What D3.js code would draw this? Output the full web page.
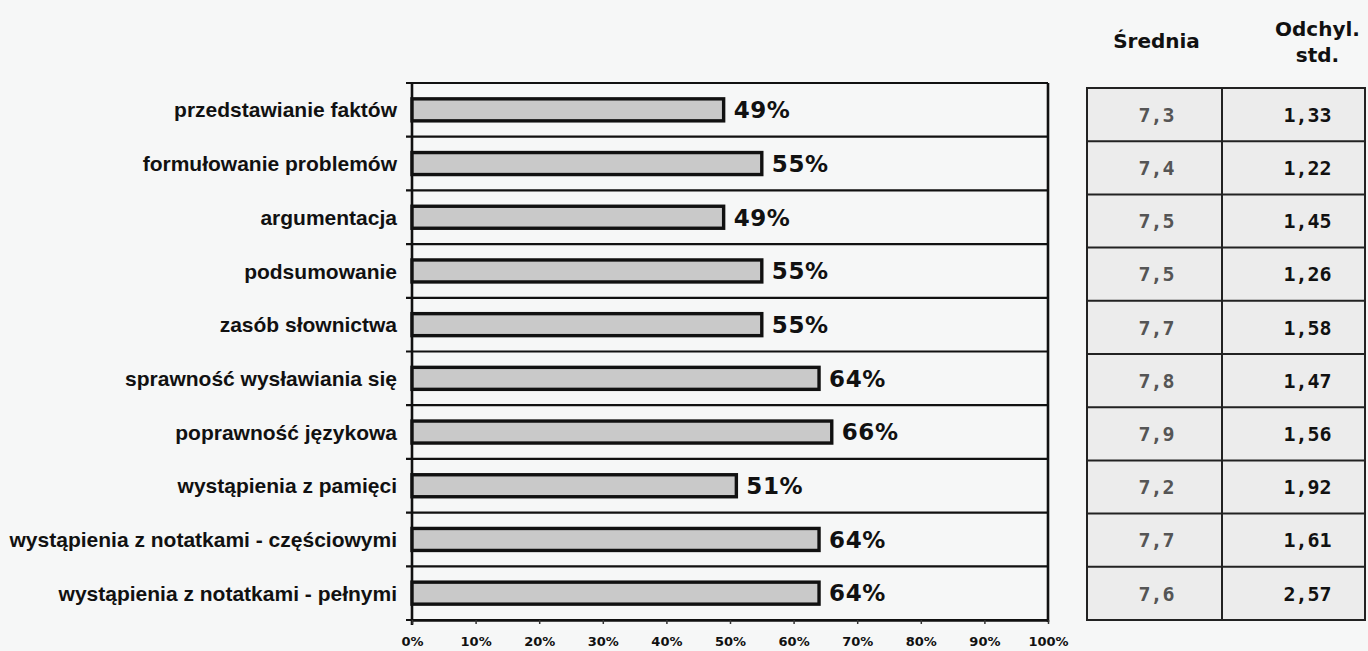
<!DOCTYPE html>
<html>
<head>
<meta charset="utf-8">
<script src="https://cdn.jsdelivr.net/npm/d3@7"></script>
<style>
  html, body { margin: 0; padding: 0; background: #f6f7f7; }
  svg { display: block; }
</style>
</head>
<body>
<div id="chart"></div>
<script>
// Data
const categories = [
    'przedstawianie faktów',
    'formułowanie problemów',
    'argumentacja',
    'podsumowanie',
    'zasób słownictwa',
    'sprawność wysławiania się',
    'poprawność językowa',
    'wystąpienia z pamięci',
    'wystąpienia z notatkami - częściowymi',
    'wystąpienia z notatkami - pełnymi'
];
const percents = [49, 55, 49, 55, 55, 64, 66, 51, 64, 64];
const means = ['7,3', '7,4', '7,5', '7,5', '7,7', '7,8', '7,9', '7,2', '7,7', '7,6'];
const stdDevs = ['1,33', '1,22', '1,45', '1,26', '1,58', '1,47', '1,56', '1,92', '1,61', '2,57'];
const xTicks = [0, 10, 20, 30, 40, 50, 60, 70, 80, 90, 100];

const W = 1368, H = 651;
const plot = { left: 412, right: 1048, top: 83, bottom: 620 };
const table = { left: 1087, mid: 1222, right: 1365, top: 88, bottom: 620 };

const svg = d3.select('#chart')
    .append('svg')
    .attr('width', W)
    .attr('height', H);

svg.append('rect').attr('width', W).attr('height', H).attr('fill', '#f6f7f7');

// Scales
const x = d3.scaleLinear().domain([0, 100]).range([plot.left, plot.right]);
const y = d3.scaleBand().domain(categories).range([plot.top, plot.bottom]);
const barH = 22;

// Row separators (category boundaries) with small ticks to the left
const bounds = categories.map(c => y(c)).concat([plot.bottom]);
svg.append('g').attr('class', 'row-lines')
    .selectAll('line')
    .data(bounds)
    .join('line')
    .attr('x1', plot.left - 6)
    .attr('x2', plot.right)
    .attr('y1', d => d)
    .attr('y2', d => d)
    .attr('stroke', '#111')
    .attr('stroke-width', 2.2);

// Left axis line and right border
svg.append('line')
    .attr('x1', plot.left).attr('x2', plot.left)
    .attr('y1', plot.top).attr('y2', plot.bottom + 5)
    .attr('stroke', '#111').attr('stroke-width', 2.6);
svg.append('line')
    .attr('x1', plot.right).attr('x2', plot.right)
    .attr('y1', plot.top).attr('y2', plot.bottom + 2)
    .attr('stroke', '#111').attr('stroke-width', 2.6);

// Bars
svg.append('g').attr('class', 'bars')
    .selectAll('rect')
    .data(percents)
    .join('rect')
    .attr('x', x(0))
    .attr('y', (d, i) => y(categories[i]) + y.bandwidth() / 2 - barH / 2)
    .attr('width', d => x(d) - x(0))
    .attr('height', barH)
    .attr('fill', '#c9c9c9')
    .attr('stroke', '#111')
    .attr('stroke-width', 3.4);

// Value labels
svg.append('g').attr('class', 'values')
    .selectAll('text')
    .data(percents)
    .join('text')
    .attr('x', d => x(d) + 10)
    .attr('y', (d, i) => y(categories[i]) + y.bandwidth() / 2)
    .attr('dy', '0.36em')
    .attr('font-family', '"DejaVu Sans", Verdana, sans-serif')
    .attr('font-weight', 'bold')
    .attr('font-size', 23)
    .attr('letter-spacing', 0.6)
    .attr('fill', '#111')
    .text(d => d + '%');

// Category labels
svg.append('g').attr('class', 'cats')
    .selectAll('text')
    .data(categories)
    .join('text')
    .attr('x', plot.left - 15)
    .attr('y', d => y(d) + y.bandwidth() / 2)
    .attr('dy', '0.36em')
    .attr('text-anchor', 'end')
    .attr('font-family', '"Liberation Sans", Arial, sans-serif')
    .attr('font-weight', 'bold')
    .attr('font-size', 21)
    .attr('fill', '#111')
    .text(d => d);

// Bottom axis
const xAxis = svg.append('g')
    .attr('transform', `translate(0,${plot.bottom})`)
    .call(d3.axisBottom(x).tickValues(xTicks).tickSize(4).tickSizeOuter(0).tickFormat(d => d + '%'));
xAxis.select('.domain').attr('stroke', '#111').attr('stroke-width', 2.6);
xAxis.selectAll('.tick line').attr('stroke', '#333').attr('stroke-width', 1.5);
xAxis.selectAll('.tick text')
    .attr('y', 17)
    .attr('font-family', '"DejaVu Sans", Verdana, sans-serif')
    .attr('font-weight', 'bold')
    .attr('font-size', 13)
    .attr('fill', '#111');

// Table on the right
const ty = d3.scaleBand().domain(categories).range([table.top, table.bottom]);
const tg = svg.append('g').attr('class', 'table');
const meanX = (table.left + table.mid) / 2 + 2;
const stdX = (table.mid + table.right) / 2 + 14;

tg.append('rect')
    .attr('x', table.left).attr('y', table.top)
    .attr('width', table.right - table.left)
    .attr('height', table.bottom - table.top)
    .attr('fill', '#ececec')
    .attr('stroke', '#222')
    .attr('stroke-width', 2);

tg.append('line')
    .attr('x1', table.mid).attr('x2', table.mid)
    .attr('y1', table.top).attr('y2', table.bottom)
    .attr('stroke', '#222').attr('stroke-width', 2);

tg.selectAll('.row-sep')
    .data(categories.slice(1))
    .join('line')
    .attr('class', 'row-sep')
    .attr('x1', table.left).attr('x2', table.right)
    .attr('y1', d => ty(d)).attr('y2', d => ty(d))
    .attr('stroke', '#222').attr('stroke-width', 2);

tg.selectAll('.mean')
    .data(means)
    .join('text')
    .attr('class', 'mean')
    .attr('x', meanX)
    .attr('y', (d, i) => ty(categories[i]) + ty.bandwidth() / 2)
    .attr('dy', '0.36em')
    .attr('text-anchor', 'middle')
    .attr('font-family', '"DejaVu Sans Mono", monospace')
    .attr('font-weight', 'bold')
    .attr('font-size', 20)
    .attr('fill', '#555')
    .text(d => d);

tg.selectAll('.std')
    .data(stdDevs)
    .join('text')
    .attr('class', 'std')
    .attr('x', stdX)
    .attr('y', (d, i) => ty(categories[i]) + ty.bandwidth() / 2)
    .attr('dy', '0.36em')
    .attr('text-anchor', 'middle')
    .attr('font-family', '"DejaVu Sans Mono", monospace')
    .attr('font-weight', 'bold')
    .attr('font-size', 20)
    .attr('fill', '#111')
    .text(d => d);

// Table headers
const headFont = '"DejaVu Sans", Verdana, sans-serif';
tg.append('text')
    .attr('x', meanX).attr('y', 48)
    .attr('text-anchor', 'middle')
    .attr('font-family', headFont).attr('font-weight', 'bold').attr('font-size', 20)
    .attr('fill', '#111')
    .text('Średnia');
tg.append('text')
    .attr('x', stdX + 10).attr('y', 36)
    .attr('text-anchor', 'middle')
    .attr('font-family', headFont).attr('font-weight', 'bold').attr('font-size', 20)
    .attr('fill', '#111')
    .text('Odchyl.');
tg.append('text')
    .attr('x', stdX + 10).attr('y', 62)
    .attr('text-anchor', 'middle')
    .attr('font-family', headFont).attr('font-weight', 'bold').attr('font-size', 20)
    .attr('fill', '#111')
    .text('std.');
</script>
</body>
</html>
